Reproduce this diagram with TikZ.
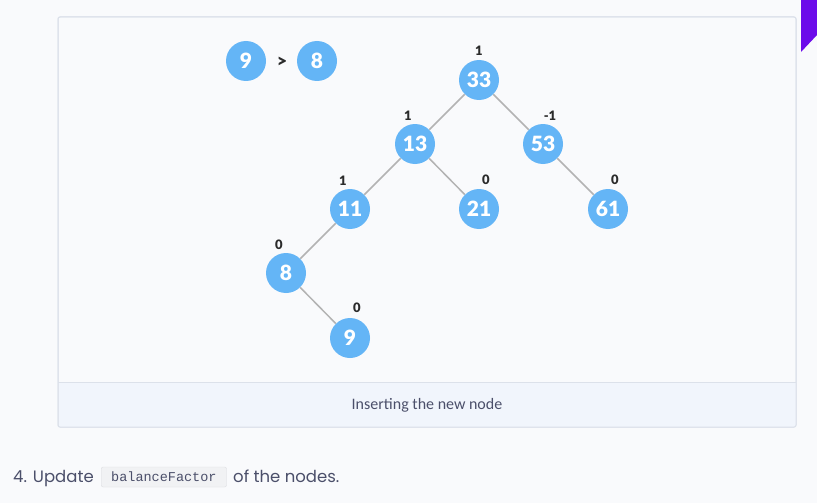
\documentclass[tikz,border=0pt]{standalone}
\usepackage{fontspec}
\setmainfont{Lato}
\newfontfamily\heavy{Lato Black}
\newfontfamily\pop{Poppins}
\newfontfamily\capf{Carlito}
\newfontfamily\monof{Liberation Mono}
\definecolor{bg}{HTML}{F9FAFC}
\definecolor{capbg}{HTML}{F1F5FC}
\definecolor{frame}{HTML}{DCE1EA}
\definecolor{nodeblue}{HTML}{64B5F6}
\definecolor{edgegray}{HTML}{B3B3B3}
\definecolor{labeldark}{HTML}{2B2B2B}
\definecolor{txt}{HTML}{4B4F6A}
\definecolor{codebg}{HTML}{F1F2F4}
\definecolor{codeframe}{HTML}{DCDDE1}
\definecolor{purp}{HTML}{6C0BEA}
\begin{document}
\begin{tikzpicture}[x=1pt,y=-1pt,
  tnode/.style={circle,fill=nodeblue,minimum size=40pt,inner sep=0pt,text=white,font=\heavy\fontsize{21}{21}\selectfont},
  bal/.style={text=labeldark,font=\heavy\fontsize{13}{13}\selectfont,inner sep=0pt},
  edge/.style={draw=edgegray,line width=1.5pt}]
\fill[bg] (0,0) rectangle (817,503);
\useasboundingbox (0,0) rectangle (817,503);
% purple corner
\fill[purp] (801,0) -- (817,0) -- (817,35) -- (801,52) -- cycle;
% frame
\draw[frame,line width=1pt,fill=bg,rounded corners=2pt] (58,17) rectangle (796,427);
\fill[capbg] (58.5,382) rectangle (795.5,426.5);
\draw[frame,line width=1pt] (58,382) -- (796,382);
\draw[frame,line width=1pt,rounded corners=2pt] (58,17) rectangle (796,427);
\node[text=txt,font=\capf\fontsize{16}{16}\selectfont] (cap) at (427,405) {Inserting the new node};
% comparison
\node[tnode] (c9) at (246,61) {9};
\node[text=labeldark,font=\heavy\fontsize{18}{18}\selectfont] (gt) at (282,62) {>};
\node[tnode] (c8) at (317,61) {8};
% tree
\node[tnode] (n33) at (479,80) {33};
\node[tnode] (n13) at (415,144) {13};
\node[tnode] (n53) at (543,144) {53};
\node[tnode] (n11) at (350,209) {11};
\node[tnode] (n21) at (479,209) {21};
\node[tnode] (n61) at (608,209) {61};
\node[tnode] (n8) at (286,273) {8};
\node[tnode] (n9) at (350,338) {9};
\draw[edge] (n33) -- (n13);
\draw[edge] (n33) -- (n53);
\draw[edge] (n13) -- (n11);
\draw[edge] (n13) -- (n21);
\draw[edge] (n53) -- (n61);
\draw[edge] (n11) -- (n8);
\draw[edge] (n8) -- (n9);
% balance labels
\node[bal] (b33) at (479,51) {1};
\node[bal] (b13) at (408,116) {1};
\node[bal] (b53) at (550,116) {-1};
\node[bal] (b11) at (343,181) {1};
\node[bal] (b21) at (486,180) {0};
\node[bal] (b61) at (615,180) {0};
\node[bal] (b8) at (279,245) {0};
\node[bal] (b9) at (357,308) {0};
% bottom text
\node[anchor=base west,inner sep=0pt,text=txt,font=\pop\fontsize{16.5}{16.5}\selectfont] (t1) at (13,482) {4. Update};
\node[anchor=base west,inner sep=0pt,text=txt,font=\monof\fontsize{13.5}{13.5}\selectfont,
  fill=codebg,draw=codeframe,rounded corners=2pt,inner xsep=10pt,text depth=6pt,text height=14pt] (code) at (101,481) {balanceFactor};
\node[anchor=base west,inner sep=0pt,text=txt,font=\pop\fontsize{16.5}{16.5}\selectfont] (t2) at (233,482) {of the nodes.};
\end{tikzpicture}
\end{document}
